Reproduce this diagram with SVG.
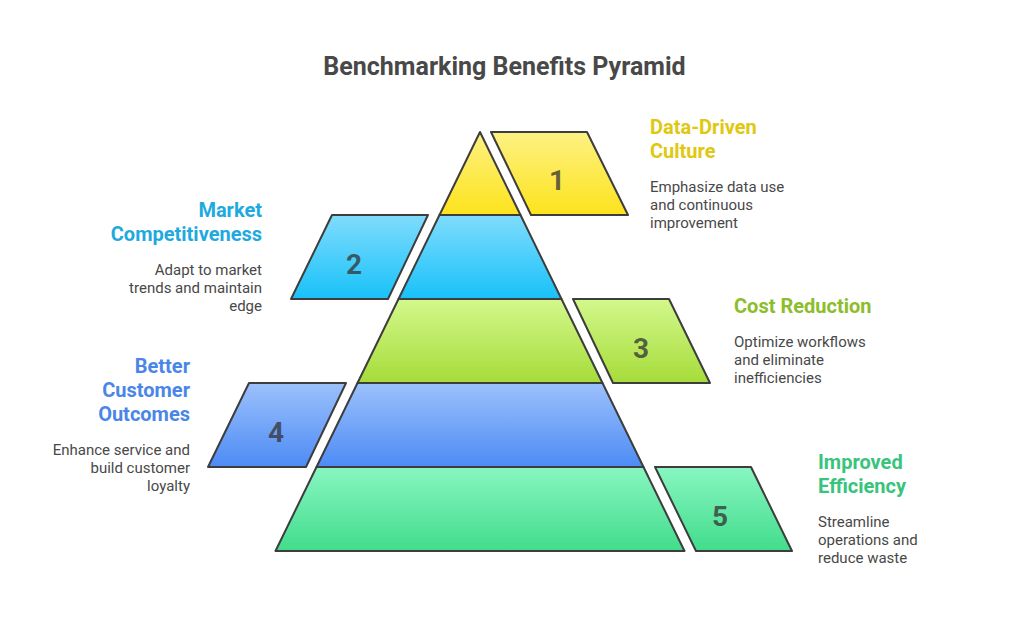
<svg xmlns="http://www.w3.org/2000/svg" width="1009" height="624" viewBox="0 0 1009 624">
<defs>
<linearGradient id="gY" x1="0" y1="0" x2="0" y2="1"><stop offset="0" stop-color="#fdf183"/><stop offset="1" stop-color="#fde31c"/></linearGradient>
<linearGradient id="gC" x1="0" y1="0" x2="0" y2="1"><stop offset="0" stop-color="#80dcfd"/><stop offset="1" stop-color="#18c1f9"/></linearGradient>
<linearGradient id="gL" x1="0" y1="0" x2="0" y2="1"><stop offset="0" stop-color="#d3f88c"/><stop offset="1" stop-color="#a6dc3a"/></linearGradient>
<linearGradient id="gB" x1="0" y1="0" x2="0" y2="1"><stop offset="0" stop-color="#9cc1fc"/><stop offset="1" stop-color="#4d8bf5"/></linearGradient>
<linearGradient id="gG" x1="0" y1="0" x2="0" y2="1"><stop offset="0" stop-color="#88f6c1"/><stop offset="1" stop-color="#42dc8c"/></linearGradient>
</defs>
<style>
.sh{stroke:#3d3d3d;stroke-width:2;stroke-linejoin:round}
.num{font-family:Roboto,"Liberation Sans",sans-serif;font-weight:700;font-size:28px;fill:#333;fill-opacity:0.75;text-anchor:middle}
.hd{font-family:Roboto,"Liberation Sans",sans-serif;font-weight:700;font-size:20px}
.bd{font-family:Roboto,"Liberation Sans",sans-serif;font-size:15px;fill:#484848}
.r{text-anchor:end}
.title{font-family:Roboto,"Liberation Sans",sans-serif;font-weight:700;font-size:25px;fill:#484848;text-anchor:middle}
</style>
<rect width="1009" height="624" fill="#ffffff"/>
<text class="title" x="504.5" y="75">Benchmarking Benefits Pyramid</text>
<g id="connectors"/>
<g id="node1">
<polygon class="sh" fill="url(#gY)" points="480,132 520.5,215 439.5,215"/>
<polygon class="sh" fill="url(#gY)" points="491,132 587,132 628,215 531,215"/>
<text class="num" x="557" y="190">1</text>
<text class="hd" fill="#e0c80f" x="650" y="134">Data-Driven</text>
<text class="hd" fill="#e0c80f" x="650" y="158">Culture</text>
<text class="bd" x="650" y="192">Emphasize data use</text>
<text class="bd" x="650" y="210">and continuous</text>
<text class="bd" x="650" y="228">improvement</text>
</g>
<g id="node2">
<polygon class="sh" fill="url(#gC)" points="439.5,215 520.5,215 561.5,299 398.5,299"/>
<polygon class="sh" fill="url(#gC)" points="332,215 428,215 388,299 291,299"/>
<text class="num" x="354" y="274">2</text>
<text class="hd r" fill="#1eaadf" x="262" y="217">Market</text>
<text class="hd r" fill="#1eaadf" x="262" y="241">Competitiveness</text>
<text class="bd r" x="262" y="275">Adapt to market</text>
<text class="bd r" x="262" y="293">trends and maintain</text>
<text class="bd r" x="262" y="311">edge</text>
</g>
<g id="node3">
<polygon class="sh" fill="url(#gL)" points="398.5,299 561.5,299 602.5,383 357.5,383"/>
<polygon class="sh" fill="url(#gL)" points="573,299 669,299 710,383 613,383"/>
<text class="num" x="641" y="358">3</text>
<text class="hd" fill="#8cbd2c" x="734" y="313">Cost Reduction</text>
<text class="bd" x="734" y="347">Optimize workflows</text>
<text class="bd" x="734" y="365">and eliminate</text>
<text class="bd" x="734" y="383">inefficiencies</text>
</g>
<g id="node4">
<polygon class="sh" fill="url(#gB)" points="357.5,383 602.5,383 643.5,467 316.5,467"/>
<polygon class="sh" fill="url(#gB)" points="249,383 346,383 306,467 208,467"/>
<text class="num" x="276" y="442">4</text>
<text class="hd r" fill="#4a86e8" x="190" y="373">Better</text>
<text class="hd r" fill="#4a86e8" x="190" y="397">Customer</text>
<text class="hd r" fill="#4a86e8" x="190" y="421">Outcomes</text>
<text class="bd r" x="190" y="455">Enhance service and</text>
<text class="bd r" x="190" y="473">build customer</text>
<text class="bd r" x="190" y="491">loyalty</text>
</g>
<g id="node5">
<polygon class="sh" fill="url(#gG)" points="316.5,467 643.5,467 684.5,551 275.5,551"/>
<polygon class="sh" fill="url(#gG)" points="655,467 751,467 792,551 696,551"/>
<text class="num" x="720" y="526">5</text>
<text class="hd" fill="#38c47c" x="818" y="469">Improved</text>
<text class="hd" fill="#38c47c" x="818" y="493">Efficiency</text>
<text class="bd" x="818" y="527">Streamline</text>
<text class="bd" x="818" y="545">operations and</text>
<text class="bd" x="818" y="563">reduce waste</text>
</g>
</svg>
